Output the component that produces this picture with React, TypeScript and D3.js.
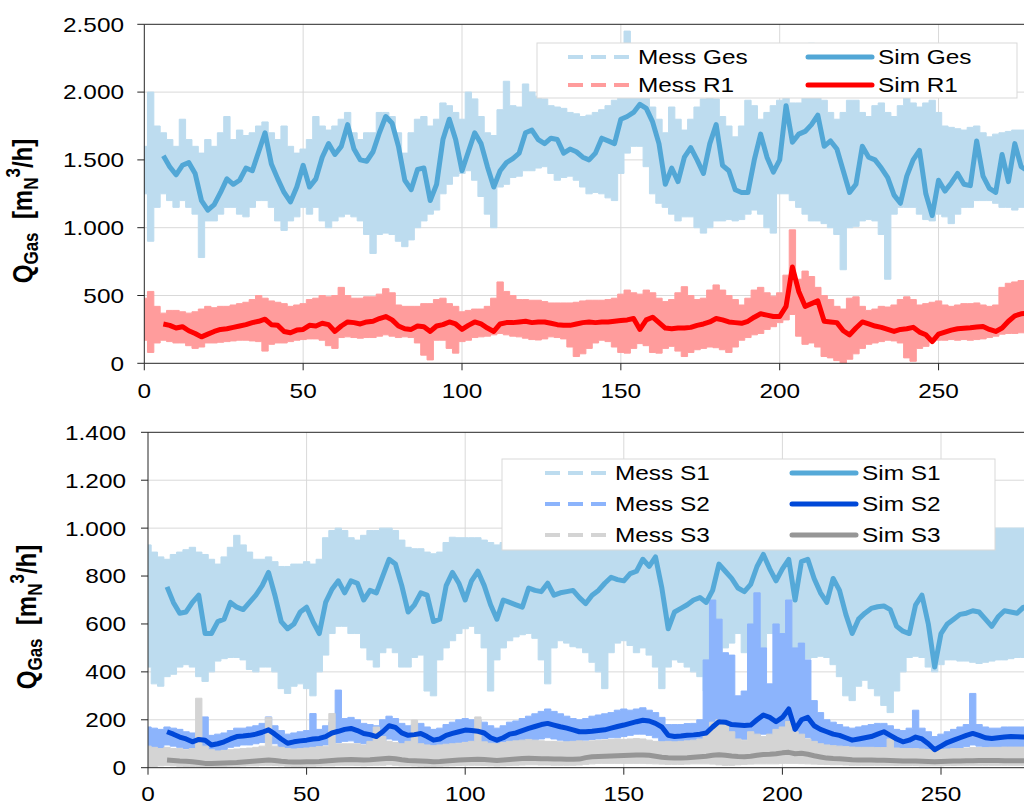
import React from 'react';
import * as d3 from 'd3';

// sample spacing of all series (x units), simulated curves start later
const STEP = 2;
const SIM_START = 6;

const xTicks = [0, 50, 100, 150, 200, 250, 300];
const yTicksTop = [0, 500, 1000, 1500, 2000, 2500];
const yTicksBottom = [0, 200, 400, 600, 800, 1000, 1200, 1400];

// ---- top panel ----
const messGesHi = [
  1600, 2000, 1750, 1700, 1650, 1600, 1800, 1650, 1600, 1550,
  1650, 1600, 1700, 1820, 1650, 1720, 1680, 1700, 1750, 1780,
  1700, 1650, 1750, 1600, 1550, 1580, 1650, 1820, 1750, 1720,
  1750, 1800, 1850, 1700, 1650, 1700, 1700, 1850, 1850, 1820,
  1700, 1550, 1700, 1800, 1820, 1750, 1800, 1920, 1900, 1850,
  1800, 2000, 1950, 1820, 1700, 1680, 1870, 2080, 1900, 1890,
  2060, 2000, 1970, 1950, 1900, 1890, 1880, 1850, 1840, 1820,
  1830, 1850, 1870, 1900, 1940, 2050, 2450, 2050, 2040, 1980,
  1890, 1800, 1700, 1890, 1800, 1720, 1800, 1890, 1950, 2040,
  1950, 1820, 1750, 1670, 1750, 1940, 1900, 1800, 1850, 1900,
  1940, 2000, 1920, 1920, 2000, 2360, 2000, 1940, 1850, 1800,
  1850, 1940, 1940, 1850, 1820, 1900, 1920, 1850, 1820, 1900,
  1960, 1920, 1890, 1920, 1940, 1850, 1750, 1740, 1730, 1720,
  1740, 1750, 1700, 1670, 1690, 1700, 1710, 1720, 1720, 1720,
  1700,
];
const messGesLo = [
  1250, 900, 1150, 1250, 1200, 1150, 1200, 1150, 1100, 780,
  1050, 1050, 1100, 1150, 1150, 1100, 1080, 1150, 1200, 1200,
  1150, 1050, 980, 1050, 1080, 1150, 1100, 1150, 1050, 1000,
  1050, 1080, 1100, 1080, 1050, 950, 810, 950, 960, 950,
  900, 860, 910, 1000, 1050, 1100, 1130, 1250, 1320, 1380,
  1400, 1420, 1350, 1230, 1100, 1000, 1300, 1320, 1370, 1380,
  1420, 1420, 1440, 1450, 1400, 1350, 1370, 1380, 1350, 1300,
  1250, 1260, 1250, 1220, 1200, 1400, 1550, 1600, 1600, 1450,
  1250, 1180, 1150, 1100, 1050, 1080, 1080, 1000, 960, 1000,
  1050, 1050, 1060, 1050, 1060, 1100, 1130, 1100, 1000, 960,
  1250, 1250, 1200, 1150, 1100, 1050, 1050, 1030, 1000, 950,
  690, 1000, 1010, 1050, 1060, 1050, 950, 620, 1100, 1150,
  1150, 1150, 1100, 1060, 1050, 1100, 1080, 1030, 1100, 1150,
  1150, 1200, 1200, 1200, 1180, 1150, 1150, 1130, 1150, 1200,
  1200,
];
const simGes = [
  1530, 1450, 1390, 1460, 1480, 1400, 1200, 1130, 1170, 1260,
  1360, 1320, 1350, 1440, 1420, 1560, 1700, 1470, 1360, 1260,
  1190, 1300, 1460, 1300, 1360, 1520, 1620, 1540, 1600, 1760,
  1580, 1500, 1490, 1560, 1700, 1820, 1770, 1600, 1350, 1280,
  1430, 1440, 1200, 1320, 1650, 1800, 1650, 1420, 1560, 1700,
  1620, 1450, 1300, 1420, 1480, 1510, 1550, 1700, 1720, 1650,
  1620, 1660, 1650, 1550, 1580, 1560, 1520, 1500, 1550, 1660,
  1640, 1620, 1800, 1820, 1850, 1910, 1880, 1780, 1620, 1320,
  1440, 1340, 1520, 1590, 1500, 1400, 1620, 1760, 1460, 1420,
  1280, 1260, 1260, 1500, 1690, 1520, 1410, 1500, 1900, 1630,
  1690, 1710, 1760, 1830, 1600, 1640, 1580, 1420, 1260, 1320,
  1600, 1520, 1500, 1440, 1370, 1240, 1180, 1380, 1500, 1570,
  1250, 1090, 1350, 1270, 1330, 1400, 1320, 1310, 1640, 1380,
  1290, 1260, 1540, 1340, 1620, 1450, 1420, 1460,
];
const messR1Hi = [
  480, 530, 420, 370, 390, 390, 380, 370, 380, 400,
  420, 410, 420, 420, 430, 440, 450, 470, 500, 480,
  460, 450, 440, 420, 430, 440, 470, 480, 500, 490,
  500, 560, 500, 480, 480, 490, 490, 510, 550, 520,
  430, 420, 420, 420, 440, 440, 470, 480, 440, 420,
  380, 390, 400, 400, 420, 480, 600, 530, 500, 470,
  470, 465, 465, 455, 445, 445, 445, 445, 450, 460,
  465, 465, 465, 470, 480, 510, 540, 520, 510, 540,
  520, 480, 455, 470, 520, 565, 500, 470, 480, 540,
  578, 540, 500, 470, 430, 480, 540, 560, 520, 495,
  520, 650, 984, 620, 680, 640, 560, 500, 470, 420,
  400, 480, 490, 420, 390, 400, 420, 415, 430, 470,
  490, 470, 430, 440, 450, 460, 430, 420, 430, 440,
  440, 445, 430, 420, 430, 560, 590, 600, 610, 615,
  600,
];
const messR1Lo = [
  170, 80, 150, 170, 160, 150, 150, 130, 110, 120,
  150, 150, 155, 160, 165, 170, 170, 165, 160, 90,
  140, 150, 150, 160, 170, 175, 180, 180, 170, 130,
  110, 190, 195, 190, 185, 190, 190, 200, 210, 200,
  190, 195, 190, 150, 60, 25, 170, 170, 110, 75,
  160, 170, 190, 195, 200, 210, 220, 210, 200, 195,
  185, 175, 172, 180, 195, 190, 180, 120, 50, 70,
  110, 150, 170, 160, 120, 80, 75, 110, 145, 130,
  80, 75, 110, 125, 90, 50, 80, 100, 110, 120,
  115, 100, 80, 120, 170, 190, 210, 220, 250, 270,
  300, 320, 360, 200, 140, 150, 120, 50, 40, 20,
  0, 30, 70, 110, 140, 150, 160, 170, 165, 150,
  40, 15, 110, 125, 160, 170, 170, 175, 170, 175,
  170, 175, 180, 190, 200, 215, 220, 220, 225, 220,
  220,
];
const simR1 = [
  290, 280, 260, 270, 240, 220, 195, 215, 235, 250,
  255, 265, 275, 285, 300, 310, 325, 285, 280, 235,
  225, 245, 250, 280, 275, 295, 285, 235, 275, 305,
  300, 290, 305, 310, 330, 345, 320, 275, 255, 250,
  275, 270, 235, 275, 285, 305, 290, 250, 280, 305,
  290, 260, 235, 290, 300, 300, 305, 310, 300, 305,
  305, 295, 285, 280, 280, 290, 300, 305, 300, 305,
  305, 310, 315, 320, 330, 250, 320, 340, 300, 260,
  255, 260, 260, 265, 280, 290, 305, 330, 320, 305,
  300, 295, 310, 340, 365, 355, 345, 345, 420, 710,
  530, 420, 440, 460, 310, 305, 300, 240, 210, 260,
  305, 290, 275, 265, 250, 235, 250, 255, 265, 230,
  210, 160, 215, 230, 245, 255, 258, 262, 268, 272,
  250, 235, 260, 310, 350, 365, 370, 370,
];

// ---- bottom panel ----
const messS1Hi = [
  930, 900, 880, 870, 890, 900, 910, 920, 900, 890,
  870, 850, 880, 920, 970, 930, 900, 870, 870, 880,
  860, 840, 840, 850, 850, 860, 850, 870, 960, 990,
  1000, 990, 960, 950, 970, 990, 990, 1000, 1000, 990,
  950, 920, 914, 914, 900, 893, 900, 940, 962, 960,
  960, 960, 960, 950, 940, 930, 940, 950, 960, 960,
  960, 960, 960, 960, 960, 960, 960, 960, 960, 960,
  960, 960, 960, 970, 970, 980, 990, 1000, 1000, 1000,
  1000, 960, 940, 950, 950, 960, 960, 960, 960, 970,
  990, 990, 990, 980, 970, 980, 990, 1000, 990, 990,
  1000, 1000, 990, 1000, 1000, 990, 980, 970, 970, 960,
  950, 940, 950, 950, 960, 950, 940, 940, 950, 960,
  960, 960, 960, 950, 940, 950, 960, 960, 970, 970,
  980, 980, 990, 990, 1000, 1000, 1000, 1000, 1000, 1000,
  1000,
];
const messS1Lo = [
  420, 350, 340, 380, 390, 420, 430, 420, 380, 360,
  400, 445, 455, 460, 460, 450, 410, 400, 420, 420,
  400, 330, 310, 340, 350, 330, 300, 400, 470, 560,
  590, 590, 560, 560, 500, 450, 420, 480, 500, 480,
  420, 420, 460, 470, 320, 300, 450, 500, 530, 560,
  580, 590, 560, 500, 320, 450, 500, 530, 546, 555,
  560, 540, 450, 350, 500, 530, 520, 505, 500, 480,
  440, 400, 330, 480, 520, 530, 510, 480, 500, 470,
  420, 330, 420, 450, 440, 420, 400, 380, 320, 340,
  420, 500, 520, 560, 480, 465, 455, 450, 560, 590,
  540, 520, 480, 450, 455, 460, 465, 460, 430, 380,
  300, 280, 340, 365, 330, 300, 260, 230, 320, 400,
  460, 465, 460, 420, 400, 430, 450, 450, 445, 445,
  440, 435, 440, 445, 450, 450, 455, 460, 460, 465,
  465,
];
const simS1 = [
  755, 690, 645, 650, 690, 720, 560, 560, 610, 620,
  690, 670, 660, 690, 720, 760, 815, 720, 610, 580,
  600, 650, 670, 610, 560, 690, 745, 780, 730, 780,
  770, 700, 740, 730, 800, 870, 850, 760, 650, 680,
  730, 720, 610, 620, 760, 815, 770, 700, 780, 820,
  760, 680, 620, 700, 690, 680, 670, 750, 740, 735,
  770, 720, 730, 735, 740, 710, 685, 720, 740, 770,
  795, 785, 780, 810, 820, 870, 840, 880, 750, 580,
  650, 665, 680, 700, 710, 690, 740, 850, 820, 790,
  750, 735, 765, 840, 890, 830, 780, 830, 870, 700,
  860, 870, 790, 730, 690, 790, 740, 640, 560, 620,
  645, 665, 672, 675, 660, 590, 570, 560, 680, 720,
  600, 420, 560, 600, 620, 640, 645, 655, 650, 620,
  590, 630, 655, 650, 645, 670, 665, 660,
];
const messS2Hi = [
  170, 165, 160, 170, 165, 160, 150, 145, 150, 212,
  135, 140, 145, 155, 165, 165, 170, 175, 185, 212,
  175, 155, 140, 145, 150, 155, 226, 160, 175, 190,
  324, 205, 210, 200, 185, 180, 175, 200, 215, 205,
  185, 175, 180, 185, 170, 160, 165, 180, 190, 200,
  205, 200, 200, 190, 175, 165, 175, 190, 195, 205,
  215, 225, 235, 245, 235, 225, 215, 205, 200, 205,
  215, 220, 225, 230, 240, 245, 240, 245, 250, 240,
  230, 210, 180, 180, 180, 184, 185, 200, 450, 700,
  620, 480, 470, 300, 320, 600, 730, 500, 350, 600,
  560, 700, 500, 520, 450, 280, 230, 200, 190, 180,
  170, 165, 170, 175, 180, 185, 185, 175, 160, 155,
  165, 240, 165, 150, 130, 140, 150, 160, 170, 180,
  310, 180, 170, 165, 165, 170, 170, 170, 170, 170,
  170,
];
const messS2Lo = [
  70, 70, 75, 95, 90, 85, 80, 75, 70, 65,
  60, 70, 75, 85, 90, 95, 95, 100, 105, 110,
  100, 80, 70, 75, 80, 80, 85, 90, 95, 100,
  105, 110, 112, 105, 100, 95, 95, 105, 120, 115,
  100, 95, 95, 100, 85, 75, 80, 90, 95, 105,
  108, 105, 100, 95, 80, 75, 85, 95, 100, 105,
  110, 115, 120, 125, 120, 115, 110, 105, 100, 115,
  118, 120, 122, 125, 125, 130, 135, 140, 140, 135,
  125, 110, 100, 95, 98, 100, 100, 102, 105, 110,
  125, 125, 120, 118, 118, 120, 130, 140, 135, 130,
  130, 140, 95, 120, 125, 110, 100, 90, 85, 80,
  75, 70, 72, 75, 78, 82, 85, 80, 70, 60,
  65, 75, 70, 55, 40, 50, 65, 75, 82, 88,
  95, 90, 85, 80, 80, 82, 85, 85, 85, 85,
  85,
];
const simS2 = [
  150, 140, 128, 120, 108, 118, 115, 95, 100, 108,
  120, 130, 132, 135, 140, 148, 158, 140, 120, 102,
  108, 112, 115, 120, 122, 130, 145, 152, 160, 164,
  155, 143, 138, 130, 150, 175, 168, 145, 135, 138,
  143, 130, 115, 120, 135, 143, 150, 157, 155, 152,
  145, 125, 115, 125, 140, 145, 155, 164, 172, 180,
  185, 178, 171, 165, 158, 150, 150, 152, 155, 158,
  165, 172, 178, 185, 192, 198, 195, 185, 170, 135,
  130, 132, 135, 137, 140, 145, 170, 192, 190, 180,
  178, 176, 178, 200, 220, 210, 192, 210, 245, 160,
  200, 210, 175, 160, 150, 140, 135, 125, 115, 120,
  125, 130, 140, 150, 135, 120, 108, 115, 128, 120,
  100, 75, 90, 105, 115, 125, 135, 143, 135, 125,
  122, 125, 128, 130, 129, 128, 128, 128,
];
const messS3Hi = [
  90, 85, 80, 85, 80, 80, 75, 80, 290, 90,
  75, 70, 72, 75, 78, 80, 82, 85, 90, 210,
  90, 85, 80, 78, 80, 82, 85, 88, 90, 226,
  100, 100, 100, 100, 95, 110, 170, 130, 110, 105,
  100, 110, 199, 100, 95, 92, 95, 98, 100, 102,
  105, 110, 212, 108, 102, 100, 105, 110, 112, 115,
  118, 115, 112, 110, 110, 108, 108, 110, 112, 110,
  112, 114, 116, 118, 120, 118, 120, 122, 120, 115,
  110, 108, 110, 108, 110, 112, 115, 120, 150, 190,
  200, 180, 150, 120, 115, 150, 140, 130, 140, 160,
  170, 193, 150, 140, 120, 110, 100, 95, 92, 90,
  88, 86, 85, 85, 85, 84, 84, 120, 82, 80,
  80, 80, 78, 76, 75, 76, 78, 80, 80, 82,
  84, 84, 84, 85, 85, 86, 86, 86, 86, 86,
  86,
];
const messS3Lo = [
  5, 5, 8, 10, 8, 6, 5, 5, 5, 4,
  4, 5, 5, 6, 6, 7, 8, 8, 10, 10,
  9, 8, 6, 5, 5, 6, 6, 7, 8, 8,
  10, 10, 10, 9, 8, 9, 10, 10, 12, 10,
  8, 8, 7, 6, 5, 5, 6, 7, 8, 9,
  10, 10, 10, 9, 8, 7, 8, 9, 10, 11,
  12, 12, 11, 11, 10, 10, 10, 10, 11, 14,
  16, 18, 18, 18, 18, 18, 18, 18, 18, 17,
  16, 15, 14, 14, 14, 15, 16, 16, 16, 15,
  12, 10, 10, 12, 14, 15, 16, 16, 16, 16,
  18, 18, 18, 17, 16, 15, 14, 13, 12, 12,
  11, 10, 10, 10, 10, 10, 10, 10, 9, 9,
  9, 9, 8, 8, 8, 8, 9, 9, 10, 10,
  10, 10, 10, 10, 10, 10, 10, 10, 10, 10,
  10,
];
const simS3 = [
  32, 30, 28, 27, 25, 22, 18, 18, 19, 20,
  21, 22, 24, 26, 28, 30, 32, 30, 27, 25,
  24, 24, 25, 25, 26, 28, 30, 32, 33, 34,
  33, 32, 33, 35, 37, 39, 37, 33, 30, 29,
  28, 27, 25, 26, 28, 30, 32, 33, 34, 35,
  34, 32, 30, 32, 34, 36, 38, 39, 38, 37,
  37, 36, 36, 35, 35, 36, 42, 46, 47, 48,
  49, 50, 51, 52, 53, 53, 52, 48, 44, 42,
  41, 41, 42, 44, 46, 48, 52, 54, 52, 49,
  47, 46, 48, 52, 55, 56, 58, 62, 64, 58,
  60, 56, 50, 45, 40, 38, 37, 35, 33, 32,
  32, 32, 31, 31, 30, 29, 28, 28, 28, 27,
  26, 25, 26, 27, 28, 28, 29, 29, 30, 30,
  30, 30, 29, 29, 29, 29, 29, 29,
];

const FONT = 'Liberation Sans, Arial, Helvetica, sans-serif';
// the picture is a bit wider than tall, text glyphs come out stretched sideways
const SX = 1.16;
const de = d3.formatLocale({ decimal: ',', thousands: '.', grouping: [3], currency: ['', ' €'] });
const fmt = de.format(',');

type Band = { name: string; hi: number[]; lo: number[]; color: string };
type Sim = { name: string; values: number[]; color: string };

const T: React.FC<{ x: number; y: number; anchor?: string; base?: string; children: React.ReactNode }> = ({ x, y, anchor = 'start', base, children }) => (
  <text
    transform={`translate(${x},${y}) scale(${SX},1)`}
    textAnchor={anchor}
    dominantBaseline={base}
    fontSize={21}
    fontFamily={FONT}
    fill="#000"
  >
    {children}
  </text>
);

type PanelProps = {
  id: string;
  top: number;
  bottom: number;
  x0: number;
  pxPerUnit: number;
  yMax: number;
  yTicks: number[];
  bands: Band[];
  sims: Sim[];
  labelX: number;
  labelY: number;
  xLabelY: number;
  yLabelRight: number;
  legend: { x: number; y: number; w: number; h: number; rows: number[]; c1: number; c2: number };
};

const Panel: React.FC<PanelProps> = (p) => {
  const right = 1024;
  const x = d3.scaleLinear([0, 300], [p.x0, p.x0 + 300 * p.pxPerUnit]);
  const y = d3.scaleLinear([0, p.yMax], [p.bottom, p.top]);

  const area = (b: Band) =>
    d3.area<number>()
      .x((_, i) => x(i * STEP))
      .y0((_, i) => y(b.lo[i]))
      .y1((d) => y(d))
      .curve(d3.curveStep)(b.hi) || '';
  const line = (s: Sim) =>
    d3.line<number>()
      .x((_, i) => x(SIM_START + i * STEP))
      .y((d) => y(d))(s.values) || '';

  const lg = p.legend;
  const n = p.bands.length;

  return (
    <g>
      <defs>
        <clipPath id={p.id}>
          <rect x={p.x0} y={p.top} width={right - p.x0} height={p.bottom - p.top} />
        </clipPath>
      </defs>
      {/* grid */}
      {p.yTicks.filter((t) => t > 0 && t < p.yMax).map((t) => (
        <line key={'gy' + t} x1={p.x0} x2={right} y1={y(t)} y2={y(t)} stroke="#d9d9d9" strokeWidth={1} />
      ))}
      {xTicks.filter((t) => t > 0 && x(t) < right).map((t) => (
        <line key={'gx' + t} x1={x(t)} x2={x(t)} y1={p.top} y2={p.bottom} stroke="#d9d9d9" strokeWidth={1} />
      ))}
      <g clipPath={`url(#${p.id})`}>
        {p.bands.map((b) => (
          <path key={b.name} d={area(b)} fill={b.color} stroke={b.color} strokeWidth={1} />
        ))}
        {p.sims.map((s) => (
          <path key={s.name} d={line(s)} fill="none" stroke={s.color} strokeWidth={5} strokeLinejoin="round" />
        ))}
      </g>
      {/* frame + axes */}
      <line x1={p.x0} x2={right} y1={p.top} y2={p.top} stroke="#262626" />
      <line x1={p.x0} x2={right} y1={p.bottom} y2={p.bottom} stroke="#262626" />
      <line x1={p.x0} x2={p.x0} y1={p.top} y2={p.bottom} stroke="#262626" />
      {p.yTicks.map((t) => (
        <g key={'ty' + t}>
          <line x1={p.x0 - 7} x2={p.x0} y1={y(t)} y2={y(t)} stroke="#262626" />
          <T x={p.yLabelRight} y={y(t)} anchor="end" base="central">{fmt(t)}</T>
        </g>
      ))}
      {xTicks.filter((t) => x(t) < right).map((t) => (
        <g key={'tx' + t}>
          <line x1={x(t)} x2={x(t)} y1={p.bottom} y2={p.bottom + 7} stroke="#262626" />
          <T x={x(t)} y={p.xLabelY} anchor="middle">{t}</T>
        </g>
      ))}
      {/* y label */}
      <text
        transform={`translate(${p.labelX},${p.labelY}) scale(${SX},1) rotate(-90)`}
        textAnchor="middle"
        fontSize={24}
        fontWeight="bold"
        fontFamily={FONT}
        fill="#000"
        style={{ whiteSpace: 'pre' }}
      >
        Q<tspan fontSize={17} dy={5}>Gas</tspan>
        <tspan dy={-5}>{'  [m'}</tspan>
        <tspan fontSize={17} dy={5}>N</tspan>
        <tspan fontSize={17} dy={-15}>3</tspan>
        <tspan dy={10}>/h]</tspan>
      </text>
      {/* legend */}
      <rect x={lg.x} y={lg.y} width={lg.w} height={lg.h} fill="#fff" stroke="#d9d9d9" />
      {p.bands.map((b, i) => (
        <g key={'lb' + b.name}>
          <line x1={lg.c1} x2={lg.c1 + 62} y1={lg.rows[i]} y2={lg.rows[i]} stroke={b.color} strokeWidth={4} strokeDasharray="15,8" />
          <T x={lg.c1 + 70} y={lg.rows[i]} base="central">{b.name}</T>
        </g>
      ))}
      {p.sims.slice(0, n).map((s, i) => (
        <g key={'ls' + s.name}>
          <line x1={lg.c2} x2={lg.c2 + 64} y1={lg.rows[i]} y2={lg.rows[i]} stroke={s.color} strokeWidth={5} strokeLinecap="round" />
          <T x={lg.c2 + 70} y={lg.rows[i]} base="central">{s.name}</T>
        </g>
      ))}
    </g>
  );
};

const App: React.FC = () => {
  return (
    <svg width={1024} height={805} style={{ position: 'absolute', left: 0, top: 0, background: '#fff' }}>
      <rect width={1024} height={805} fill="#fff" />
      <Panel
        id="clipTop"
        top={24.3}
        bottom={363.3}
        x0={144.3}
        pxPerUnit={3.177}
        yMax={2500}
        yTicks={yTicksTop}
        bands={[
          { name: 'Mess Ges', hi: messGesHi, lo: messGesLo, color: '#bddcef' },
          { name: 'Mess R1', hi: messR1Hi, lo: messR1Lo, color: '#ff9c9c' },
        ]}
        sims={[
          { name: 'Sim Ges', values: simGes, color: '#52a7d6' },
          { name: 'Sim R1', values: simR1, color: '#ff0000' },
        ]}
        labelX={32}
        labelY={211}
        xLabelY={398}
        yLabelRight={124}
        legend={{ x: 537, y: 43, w: 480, h: 55, rows: [57, 85], c1: 568, c2: 808 }}
      />
      <Panel
        id="clipBottom"
        top={432.3}
        bottom={767.7}
        x0={148}
        pxPerUnit={3.172}
        yMax={1400}
        yTicks={yTicksBottom}
        bands={[
          { name: 'Mess S1', hi: messS1Hi, lo: messS1Lo, color: '#bddcef' },
          { name: 'Mess S2', hi: messS2Hi, lo: messS2Lo, color: '#8cb4fc' },
          { name: 'Mess S3', hi: messS3Hi, lo: messS3Lo, color: '#d4d4d4' },
        ]}
        sims={[
          { name: 'Sim S1', values: simS1, color: '#55a9d8' },
          { name: 'Sim S2', values: simS2, color: '#0048d8' },
          { name: 'Sim S3', values: simS3, color: '#969696' },
        ]}
        labelX={36}
        labelY={617}
        xLabelY={801}
        yLabelRight={126}
        legend={{ x: 502, y: 459, w: 493, h: 91, rows: [473, 504, 535], c1: 545, c2: 792 }}
      />
    </svg>
  );
};

export default App;
